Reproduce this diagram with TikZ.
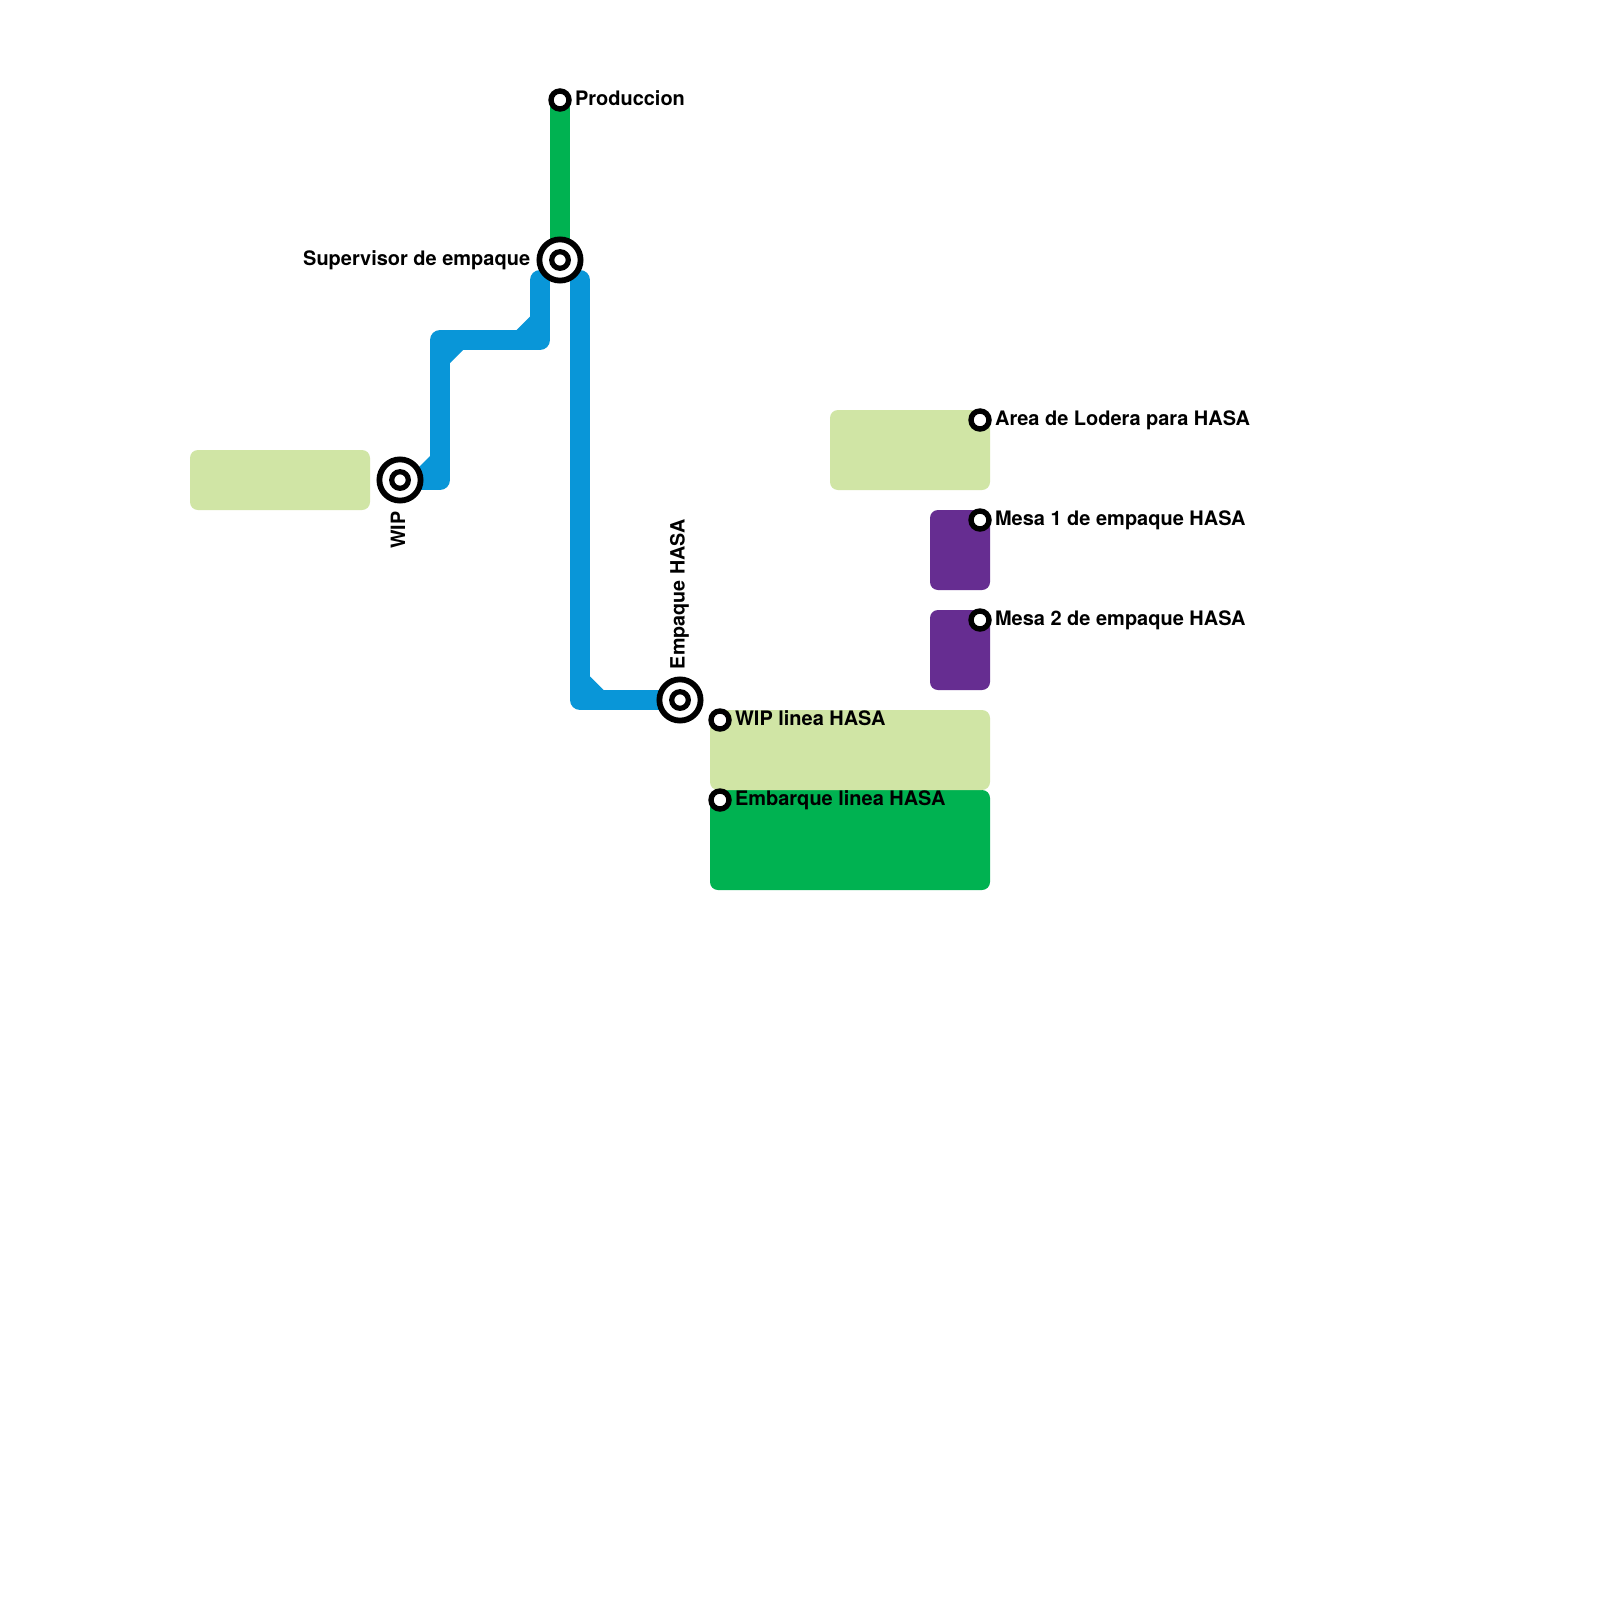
\documentclass[tikz,border=0pt]{standalone}
\usepackage{fontspec}
\setmainfont{TeX Gyre Heros}
\tikzset{
  x=0.5pt,y=-0.5pt,
  area/.style={rounded corners=4pt},
  line/.style={line width=10pt,line join=round},
  bluetrack/.style={line,draw=trackblue,line cap=round},
  bigstn/.style={circle,draw=black,fill=white,line width=2.9pt,minimum size=20.6pt,inner sep=0pt,outer sep=0pt},
  hub/.style={circle,draw=black,fill=white,line width=2.6pt,minimum size=8.3pt,inner sep=0pt,outer sep=0pt},
  smallstn/.style={circle,draw=black,fill=white,line width=2.7pt,minimum size=9pt,inner sep=0pt,outer sep=0pt},
  lbl/.style={font=\bfseries\fontsize{9.98pt}{12pt}\selectfont,inner sep=0pt,text=black},
  vlbl/.style={font=\bfseries\fontsize{9.85pt}{12pt}\selectfont,inner sep=0pt,text=black,rotate=90},
}
\definecolor{pale}{HTML}{D0E5A5}
\definecolor{plum}{HTML}{662D91}
\definecolor{trackgreen}{HTML}{00B251}
\definecolor{trackblue}{HTML}{0996D8}
\begin{document}
\begin{tikzpicture}
\useasboundingbox[fill=white] (0,0) rectangle (1600,1600);
% areas
\fill[area,pale] (190,450) rectangle (370,510);
\fill[area,pale] (830,410) rectangle (990,490);
\fill[area,plum] (930,510) rectangle (990,590);
\fill[area,plum] (930,610) rectangle (990,690);
\fill[area,trackgreen] (710,790) rectangle (990,890);
\fill[area,pale] (710,710) rectangle (990,790);
% coordinates
\coordinate (prodc) at (560,100);
\coordinate (supc) at (560,260);
\coordinate (wipc) at (400,480);
\coordinate (empc) at (680,700);
\coordinate (b1) at (440,480);
\coordinate (b2) at (440,340);
\coordinate (b3) at (540,340);
\coordinate (b4) at (540,280);
\coordinate (r1) at (580,280);
\coordinate (r2) at (580,700);
% tracks
\draw[line,draw=trackgreen] (prodc) -- (supc);
\draw[bluetrack] (wipc) -- (b1) -- (b2) -- (b3) -- (b4);
\draw[bluetrack] (r1) -- (r2) -- (empc);
\fill[trackblue] (430,456) -- (416,470) -- (430,470) -- cycle;
\fill[trackblue] (450,363) -- (463,350) -- (450,350) -- cycle;
\fill[trackblue] (530,316.5) -- (516.5,330) -- (530,330) -- cycle;
\fill[trackblue] (590,676.5) -- (603.5,690) -- (590,690) -- cycle;
% stations
\node[bigstn] (sup) at (supc) {};
\node[hub] (suphub) at (supc) {};
\node[bigstn] (wip) at (wipc) {};
\node[hub] (wiphub) at (wipc) {};
\node[bigstn] (emp) at (empc) {};
\node[hub] (emphub) at (empc) {};
\node[smallstn] (prod) at (prodc) {};
\node[smallstn] (lodera) at (980,420) {};
\node[smallstn] (mesa1) at (980,520) {};
\node[smallstn] (mesa2) at (980,620) {};
\node[smallstn] (wiplinea) at (720,720) {};
\node[smallstn] (embarque) at (720,800) {};
% labels
\node[lbl,anchor=base west] (tprod) at (574.7,105) {Produccion};
\node[lbl,anchor=base east] (tsup) at (530.5,265.5) {Supervisor de empaque};
\node[vlbl,anchor=base east] (twip) at (405,511) {WIP};
\node[vlbl,anchor=base west] (temp) at (684.5,669.5) {Empaque HASA};
\node[lbl,anchor=base west] (tlod) at (994.7,425) {Area de Lodera para HASA};
\node[lbl,anchor=base west] (tm1) at (994.7,525) {Mesa 1 de empaque HASA};
\node[lbl,anchor=base west] (tm2) at (994.7,625) {Mesa 2 de empaque HASA};
\node[lbl,anchor=base west] (twl) at (734.7,725) {WIP linea HASA};
\node[lbl,anchor=base west] (tem) at (734.7,805) {Embarque linea HASA};
\end{tikzpicture}
\end{document}
